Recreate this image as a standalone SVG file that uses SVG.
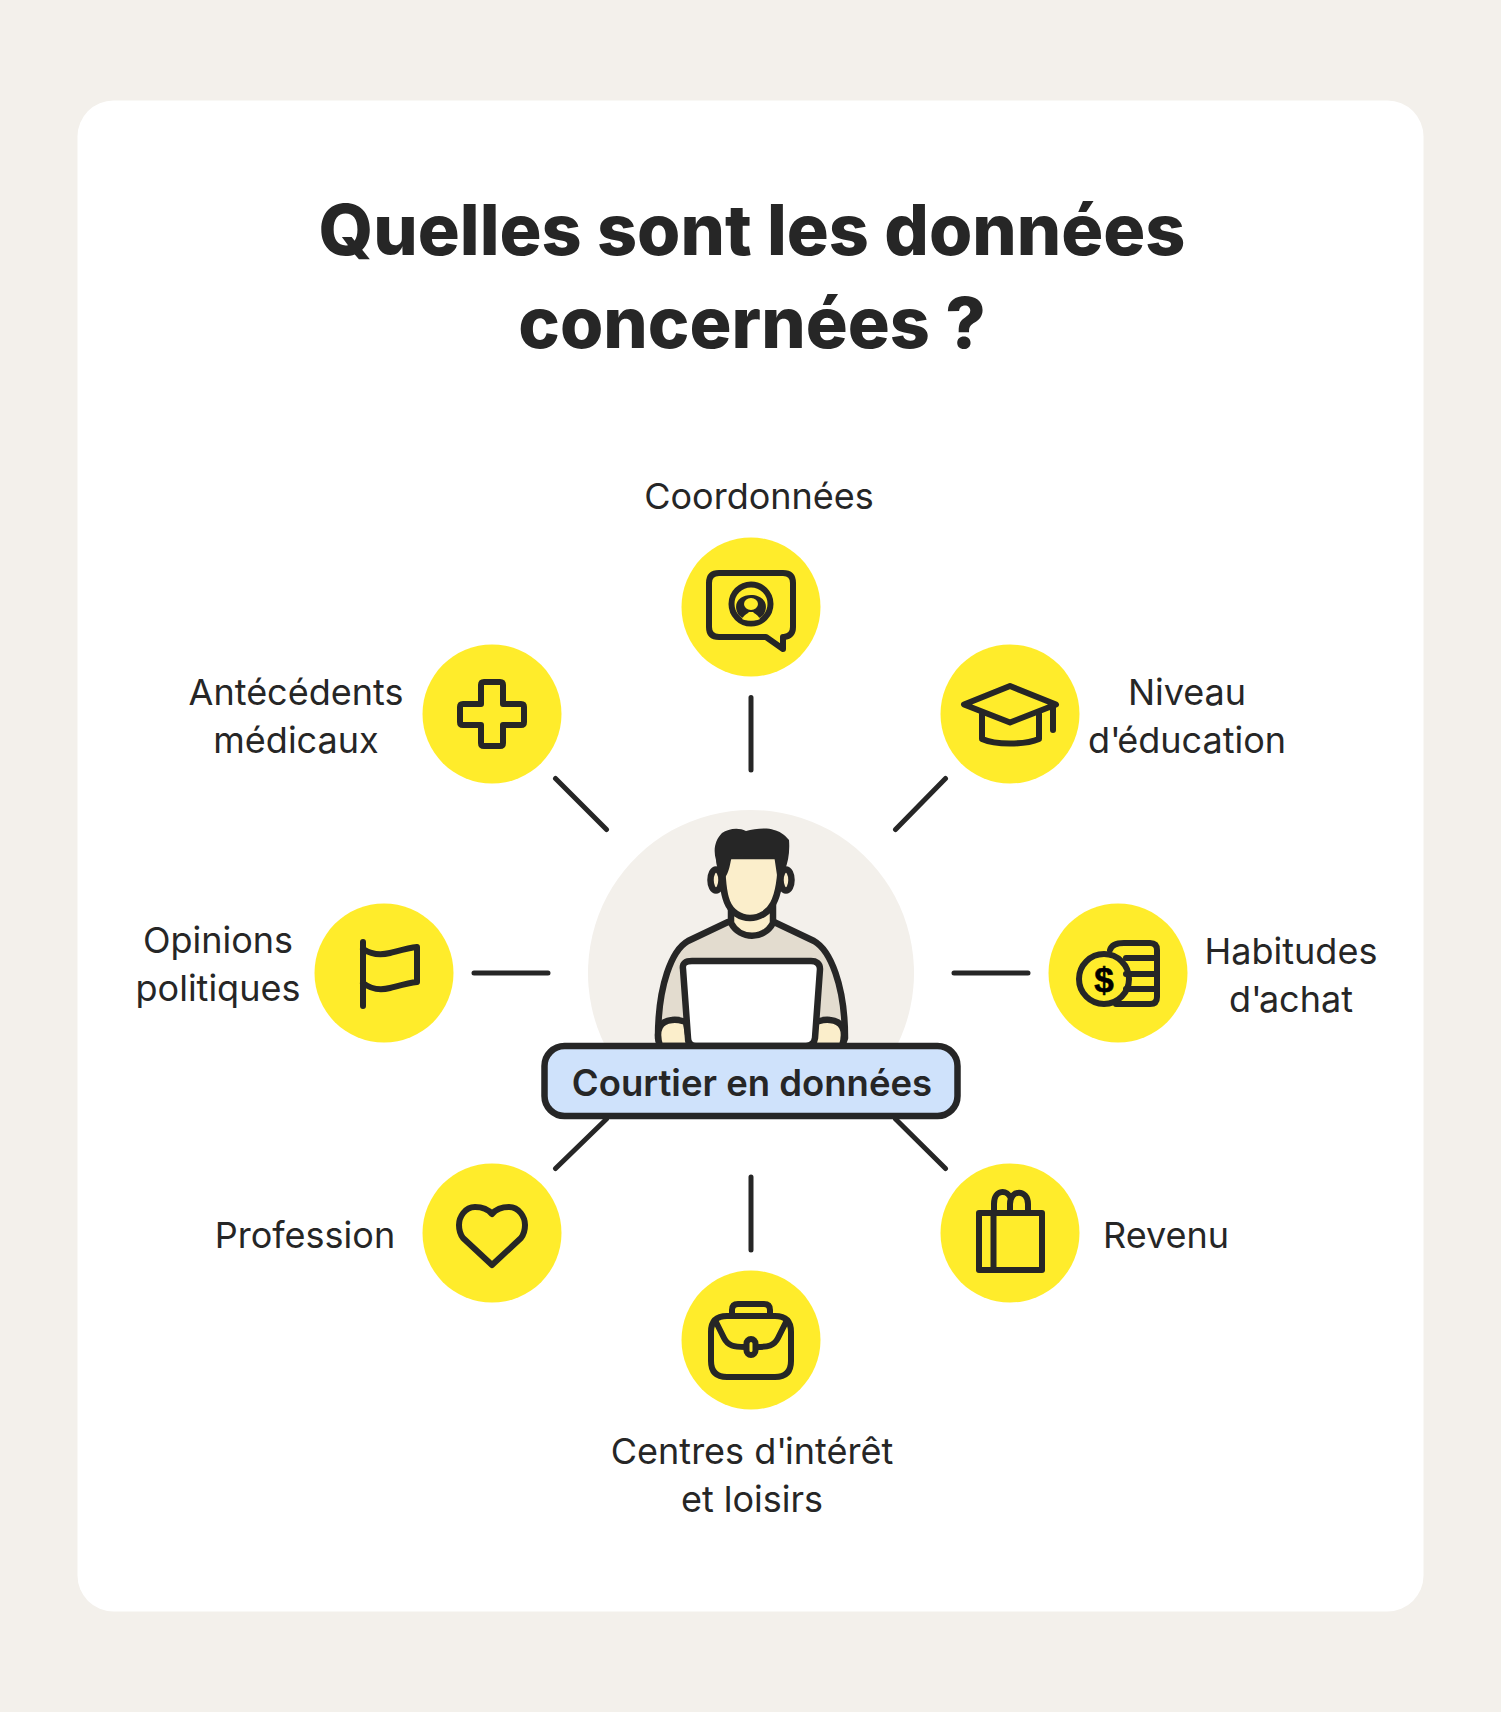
<svg xmlns="http://www.w3.org/2000/svg" width="1501" height="1712" viewBox="0 0 1501 1712">
<style>
text{font-family:Inter,"Noto Sans","Liberation Sans",sans-serif;fill:#262626;text-anchor:middle}
.t{font-size:70px;font-weight:800}
.l{font-size:36px;font-weight:420}
.c{font-size:36.500px;font-weight:600}
.y{fill:#ffec2b}
.i{fill:none;stroke:#262626;stroke-width:6;stroke-linecap:round;stroke-linejoin:round}
.o{stroke:#262626;stroke-width:6.500;stroke-linecap:round;stroke-linejoin:round}
.k{stroke:#262626;stroke-width:5;stroke-linecap:round;fill:none}
</style>
<rect width="1501" height="1712" fill="#f3f0eb"/>
<rect x="77.500" y="100.500" width="1346" height="1511" rx="36" fill="#fff"/>
<g id="title"><text class="t" x="752" y="255">Quelles sont les données</text><text class="t" x="752" y="348">concernées ?</text></g>
<g id="connectors">
<path class="k" d="M751 697.500V770M945.500 778.500L895.500 829.500M555.500 778.500L606.500 829.500M474 973H548M954 973H1028M555.500 1168.500L606.500 1119M945.500 1168.500L895.500 1119M751 1177V1250"/>
</g>
<g id="center">
<path d="M605.300 1046A163 163 0 1 1 896.700 1046Z" fill="#f3f0eb"/>
<path class="o" fill="#e3dccf" d="M728 922L688 941C672 950 658 985 658 1038L660 1046H842L845 1038C845 985 830 950 814 941L774 922Z"/>
<path class="o" fill="#fbeecb" d="M731 905V923C740 940 764 940 773 923V905Z"/>
<ellipse class="o" cx="716" cy="880" rx="5.500" ry="10.500" fill="#fbeecb"/><ellipse class="o" cx="786" cy="880" rx="5.500" ry="10.500" fill="#fbeecb"/>
<path class="o" fill="#fbeecb" d="M722 856C722 880 723 892 727 902C731 912 740 918 750 918C760 918 769 912 773 904C778 895 781 880 781 856Z"/>
<path fill="#262626" d="M723 879C719 873 716 865 716 860C713 850 715 840 722 833C728 829 738 827 746 831C754 829 766 827 774 830C779 831 784 834 789 840C790 852 788 862 785 870L781 882H778L774 855C765 858 740 858 733 853C730 860 730 875 723 879Z"/>
<path class="o" fill="#fbeecb" d="M660 1046C655 1030 660 1021 672 1020C678 1019 682 1021 686 1022L690 1046ZM842 1046C847 1030 842 1021 830 1020C824 1019 820 1021 816 1022L812 1046Z"/>
<path class="o" fill="#fff" d="M683 969C682 963 686 961 692 961H811C816 961 820 963 820 969L815 1038Q814 1046 806 1046H696Q688 1046 688 1038Z"/>
<rect x="544.500" y="1046" width="413" height="70" rx="20" fill="#cfe2fb" stroke="#262626" stroke-width="6.500"/>
<text class="c" x="752" y="1096">Courtier en données</text>
</g>
<g id="coordonnees">
<text class="l" x="759" y="509">Coordonnées</text>
<circle class="y" cx="751" cy="607" r="69.500"/>
<path class="i" d="M719 573H783Q793 573 793 583V627Q793 636 784 637H783V649L766 637H719Q709 637 709 627V583Q709 573 719 573Z"/>
<circle class="i" cx="751" cy="604" r="19.500"/>
<path fill="#262626" d="M738 614C732 602 741 595 751 595C761 595 770 602 764 614C760 621 742 621 738 614Z"/>
<ellipse class="y" cx="751" cy="604" rx="7" ry="6"/>
<path class="y" d="M742 619C744 615 747 614 749 612H753C755 614 758 615 760 619C756 621 746 621 742 619Z"/>
</g>
<g id="education">
<text class="l" x="1187" y="705">Niveau</text><text class="l" x="1187" y="753">d'<tspan dx="-3">éducation</tspan></text>
<circle class="y" cx="1010" cy="714" r="69.500"/>
<path class="i" d="M1010 686L964 704.500L1010 722.500L1056 704.500ZM982 714V739C995 745 1025 745 1039 739V714M1053 706V730"/>
</g>
<g id="antecedents">
<text class="l" x="296" y="705">Antécédents</text><text class="l" x="296" y="753">médicaux</text>
<circle class="y" cx="492" cy="714" r="69.500"/>
<path class="i" d="M481 685Q481 682 484 682H500Q503 682 503 685V704H521Q524 704 524 707V722Q524 725 521 725H503V743Q503 746 500 746H484Q481 746 481 743V725H463Q460 725 460 722V707Q460 704 463 704H481Z"/>
</g>
<g id="opinions">
<text class="l" x="218" y="953">Opinions</text><text class="l" x="218" y="1001">politiques</text>
<circle class="y" cx="384" cy="973" r="69.500"/>
<path class="i" d="M363 942V1006M363 949C372 955 382 955 390 953C398 951 408 948 417 947V982C408 983 398 986 390 988C382 990 372 990 363 983"/>
</g>
<g id="habitudes">
<text class="l" x="1291" y="964">Habitudes</text><text class="l" x="1291" y="1012">d'<tspan dx="-3">achat</tspan></text>
<circle class="y" cx="1118" cy="973" r="69.500"/>
<path class="i" d="M1110 950Q1112 943 1124 943H1150Q1157 943 1157 950V997Q1157 1004 1150 1004H1116M1126 958H1157M1126 974H1157M1126 989H1157"/>
<circle class="i" cx="1104" cy="979" r="25"/>
<text x="1104" y="991.500" style="font-family:'Liberation Sans',sans-serif;font-size:35px;font-weight:700;fill:#000;stroke:#000;stroke-width:.6">$</text>
</g>
<g id="profession">
<text class="l" x="305" y="1248">Profession</text>
<circle class="y" cx="492" cy="1233" r="69.500"/>
<path class="i" d="M492 1214C487 1208 481 1207 475 1207C465 1207 459 1217 459 1225C459 1231 460 1234 463 1238L492 1265L521 1238C524 1234 525 1231 525 1225C525 1217 519 1207 509 1207C503 1207 497 1208 492 1214Z"/>
</g>
<g id="revenu">
<text class="l" x="1166" y="1248">Revenu</text>
<circle class="y" cx="1010" cy="1233" r="69.500"/>
<path class="i" d="M979 1213H1042V1270H979ZM993.500 1213V1270M994 1213V1204C994 1189 1008 1189 1011 1199M1010 1213V1204C1010 1189 1028 1189 1028 1204V1213"/>
</g>
<g id="centres">
<text class="l" x="752" y="1464">Centres d'<tspan dx="-2">intérêt</tspan></text><text class="l" x="752" y="1512">et loisirs</text>
<circle class="y" cx="751" cy="1340" r="69.500"/>
<path class="i" d="M732 1316V1310Q732 1304 738 1304H764Q770 1304 770 1310V1316M727 1316H775Q791 1316 791 1332V1361Q791 1377 775 1377H727Q711 1377 711 1361V1332Q711 1316 727 1316ZM715 1320L724 1338C728 1346 734 1347 745 1347M757 1347C768 1347 774 1346 778 1338L787 1320"/>
<rect class="i" x="746.500" y="1339" width="9" height="16" rx="4.500"/>
</g>
</svg>
